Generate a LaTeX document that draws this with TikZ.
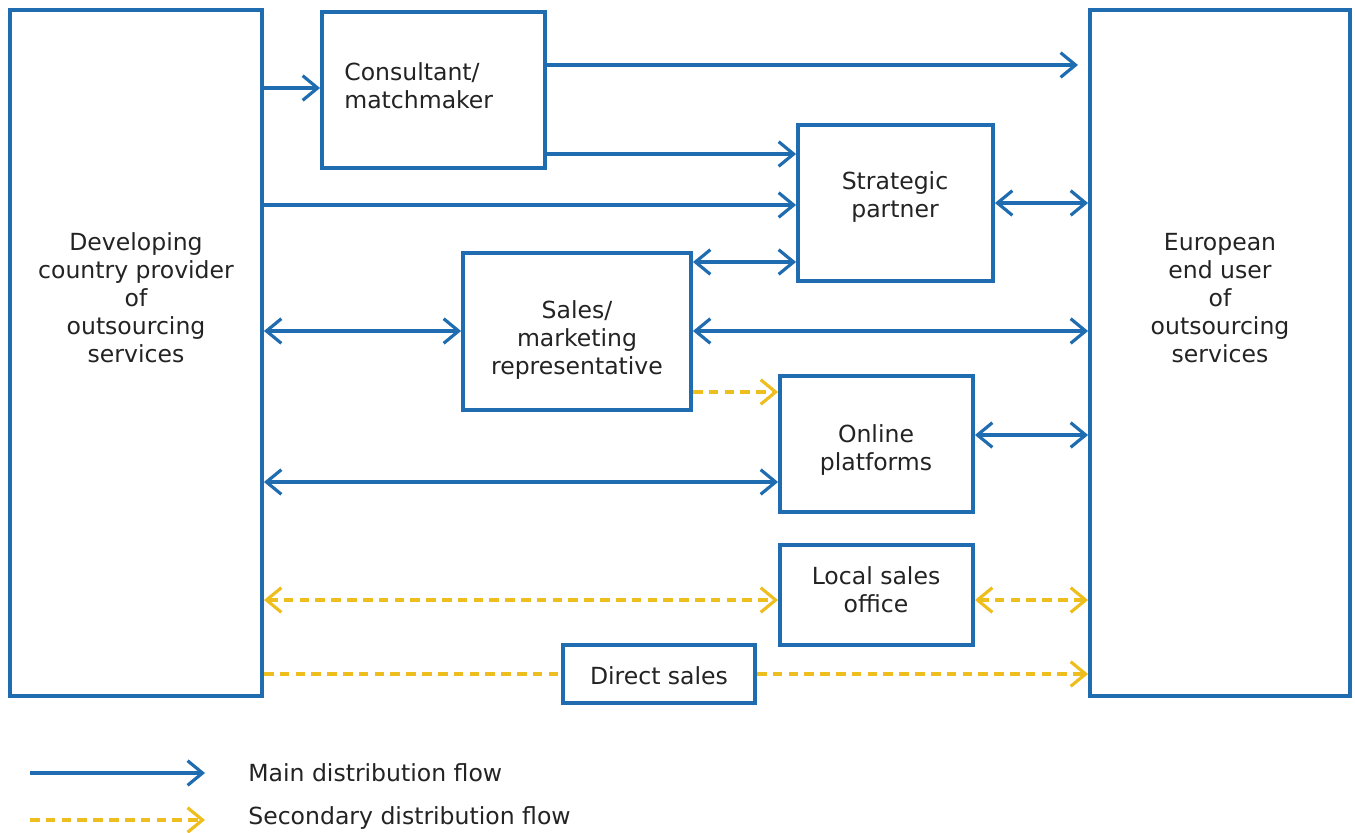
\documentclass[tikz,border=0pt]{standalone}
\usepackage{fontspec}
\setmainfont{DejaVu Sans}
\usetikzlibrary{arrows.meta,fit}
\definecolor{eblue}{RGB}{31,108,176}
\definecolor{eyellow}{RGB}{238,190,30}
\definecolor{etext}{RGB}{35,35,35}
\begin{document}
\begin{tikzpicture}[x=0.02cm,y=-0.02cm,
  >={Straight Barb[length=8.5pt,width=14pt,line width=1.8pt]},
  box/.style={draw=eblue, line width=2.2pt, inner sep=0pt},
  txt/.style={text=etext, font=\fontsize{13.4}{15.9}\selectfont, align=center, inner sep=0pt},
  mainflow/.style={draw=eblue, line width=2pt},
  secflow/.style={draw=eyellow, line width=2pt, dash pattern=on 5.5pt off 3.5pt},
  ]
\useasboundingbox (0,0) rectangle (1355,832);
% boxes
\node[box, fit={(10,10) (262,696)}] (dev) {};
\node[box, fit={(322,12) (545,168)}] (cons) {};
\node[box, fit={(798,125) (993,281)}] (strat) {};
\node[box, fit={(463,253) (691,410)}] (sales) {};
\node[box, fit={(780,376) (973,512)}] (online) {};
\node[box, fit={(780,545) (973,645)}] (local) {};
\node[box, fit={(563,645) (755,703)}] (direct) {};
\node[box, fit={(1090,10) (1350,696)}] (euro) {};
% texts
\node[txt] (devtxt) at (136,298) {Developing\\country provider\\of\\outsourcing\\services};
\node[txt] (eurotxt) at (1220,298) {European\\end user\\of\\outsourcing\\services};
\node[txt, anchor=west, align=left] (constxt) at (344,86) {Consultant/\\matchmaker};
\node[txt] (strattxt) at (895,197) {Strategic\\partner};
\node[txt] (salestxt) at (577,340) {Sales/\\marketing\\representative};
\node[txt] (onlinetxt) at (876,450) {Online\\platforms};
\node[txt] (localtxt) at (876,590) {Local sales\\office};
\node[txt] (directtxt) at (659,676) {Direct sales};
% main flows
\coordinate (c1end) at (1078,65);
\draw[mainflow, ->] (dev.east |- 0,88) -- (cons.west |- 0,88);
\draw[mainflow, ->] (cons.east |- c1end) -- (c1end);
\draw[mainflow, ->] (cons.east |- 0,154) -- (strat.west |- 0,154);
\draw[mainflow, ->] (dev.east |- 0,205) -- (strat.west |- 0,205);
\draw[mainflow, <->] (strat.east |- 0,203) -- (euro.west |- 0,203);
\draw[mainflow, <->] (sales.east |- 0,262) -- (strat.west |- 0,262);
\draw[mainflow, <->] (dev.east |- 0,331) -- (sales.west |- 0,331);
\draw[mainflow, <->] (sales.east |- 0,331) -- (euro.west |- 0,331);
\draw[mainflow, <->] (online.east |- 0,435) -- (euro.west |- 0,435);
\draw[mainflow, <->] (dev.east |- 0,482) -- (online.west |- 0,482);
% secondary flows
\draw[secflow, ->] (sales.east |- 0,392) -- (online.west |- 0,392);
\draw[secflow, <->] (dev.east |- 0,600) -- (local.west |- 0,600);
\draw[secflow, <->] (local.east |- 0,600) -- (euro.west |- 0,600);
\draw[secflow] (dev.east |- direct) -- (direct.west);
\draw[secflow, ->] (direct.east) -- (euro.west |- direct);
% legend
\coordinate (l1a) at (30,773);
\coordinate (l1b) at (205,773);
\coordinate (l2a) at (30,820);
\coordinate (l2b) at (205,820);
\draw[mainflow, ->] (l1a) -- (l1b);
\draw[secflow, ->] (l2a) -- (l2b);
\node[txt, anchor=west] (leg1) at (248,773) {Main distribution flow};
\node[txt, anchor=west] (leg2) at (248,818) {Secondary distribution flow};
\end{tikzpicture}
\end{document}
